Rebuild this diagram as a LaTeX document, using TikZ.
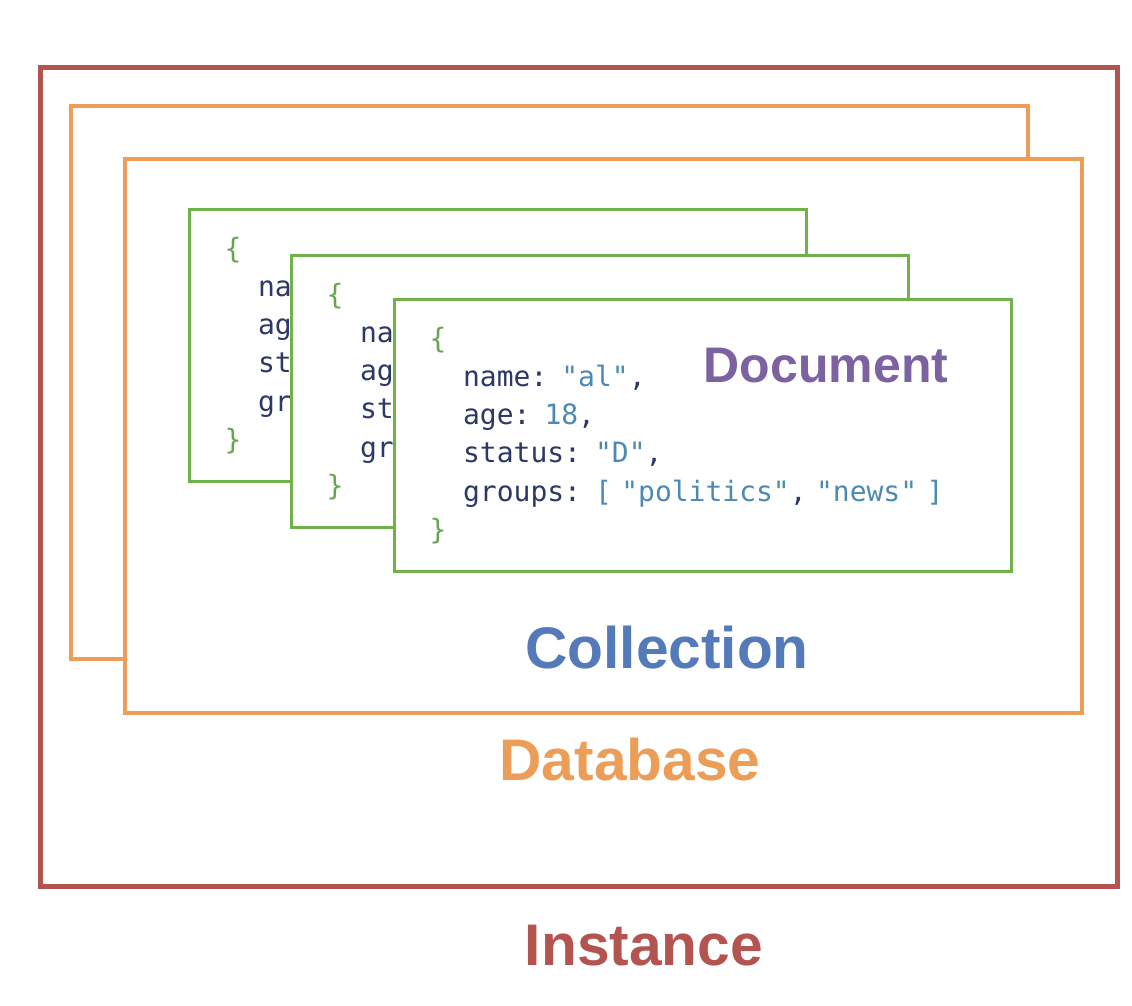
\documentclass[tikz,border=0pt]{standalone}
\usepackage{fontspec}
\setmainfont{Liberation Sans}
\setmonofont{DejaVu Sans Mono}
\usetikzlibrary{positioning}

\definecolor{instred}{RGB}{180,84,80}
\definecolor{dborange}{RGB}{236,158,88}
\definecolor{colblue}{RGB}{84,122,186}
\definecolor{docpurple}{RGB}{124,98,160}
\definecolor{docgreen}{RGB}{114,176,74}
\definecolor{codekey}{RGB}{44,56,102}
\definecolor{codeval}{RGB}{76,138,180}
\definecolor{codebrace}{RGB}{104,164,80}

\newcommand\kw[1]{\textcolor{codekey}{#1}}
\newcommand\vl[1]{\textcolor{codeval}{#1}}
\newcommand\docbody{%
	\textcolor{codebrace}{\{}\\
	\hspace*{1.2em}\kw{name:} \vl{"al"}\kw{,}\\
	\hspace*{1.2em}\kw{age:} \vl{18}\kw{,}\\
	\hspace*{1.2em}\kw{status:} \vl{"D"}\kw{,}\\
	\hspace*{1.2em}\kw{groups:} \vl{[} \vl{"politics"}\kw{,} \vl{"news"} \vl{]}\\
	\textcolor{codebrace}{\}}}

\begin{document}
\begin{tikzpicture}[x=0.75pt, y=-0.75pt,
		docbox/.style={draw=docgreen, fill=white, line width=2.25pt,
			rectangle, anchor=north west, minimum width=462.75pt,
			minimum height=204pt, inner xsep=26.25pt, text width=410.25pt,
			align=left, font=\ttfamily\fontsize{21}{28.7}\selectfont},
		label/.style={anchor=base, font=\bfseries\fontsize{44}{44}\selectfont}]
	\useasboundingbox (0,0) rectangle (1132,1006);

	% instance and databases
	\draw [instred, line width=3.75pt] (40,68) rectangle (1117,886);
	\draw [dborange, line width=3pt, fill=white] (71,106) rectangle (1028,659);
	\draw [dborange, line width=3pt, fill=white] (125,159) rectangle (1082,713);

	% documents of the collection
	\node (doc1) [docbox] at (188,208) {\docbody};
	\node (doc2) [docbox] at ([shift={(102,46)}]doc1.north west) {\docbody};
	\node (doc3) [docbox] at ([shift={(103,44)}]doc2.north west) {\docbody};

	\node (document) [label, text=docpurple, font=\bfseries\fontsize{37.5}{37.5}\selectfont] at (826,382) {Document};
	\node (collection) [label, text=colblue] at (667,668) {Collection};
	\node (database) [label, text=dborange] at (630,780) {Database};
	\node (instance) [label, text=instred] at (644,965) {Instance};
\end{tikzpicture}
\end{document}
